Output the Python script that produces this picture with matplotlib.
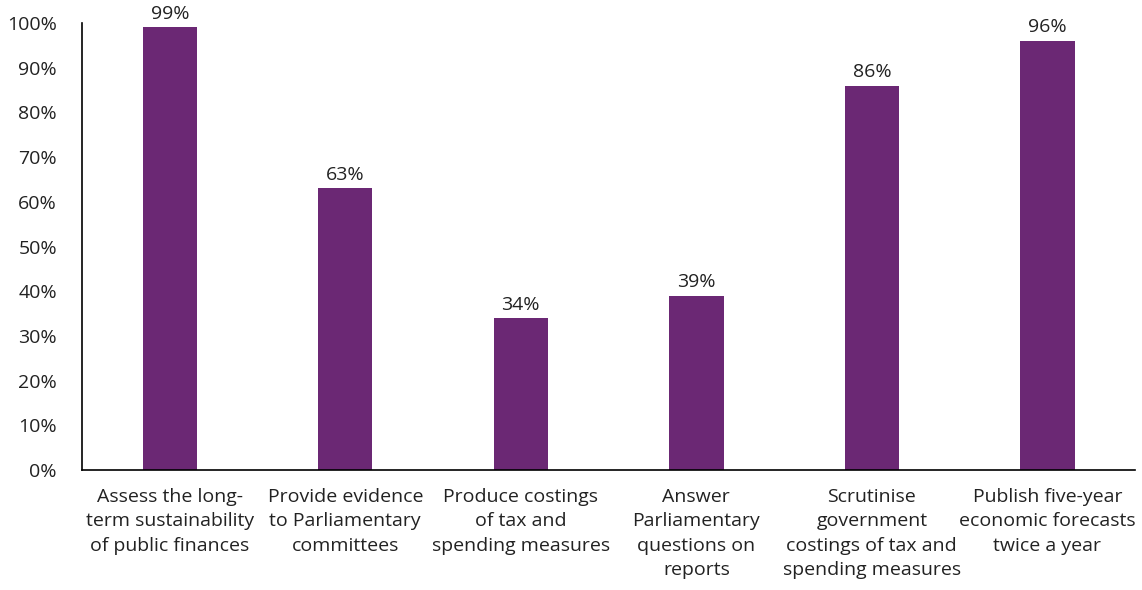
import matplotlib
matplotlib.use("Agg")
import matplotlib.pyplot as plt
from matplotlib.ticker import PercentFormatter

categories = [
    "Assess the long-\nterm sustainability\nof public finances",
    "Provide evidence\nto Parliamentary\ncommittees",
    "Produce costings\nof tax and\nspending measures",
    "Answer\nParliamentary\nquestions on\nreports",
    "Scrutinise\ngovernment\ncostings of tax and\nspending measures",
    "Publish five-year\neconomic forecasts\ntwice a year",
]
values = [99, 63, 34, 39, 86, 96]
yticks = list(range(0, 101, 10))

plt.rcParams["font.family"] = ["Open Sans", "DejaVu Sans"]
bar_color = "#6B2874"
text_color = "#222222"
fs = 14

fig = plt.figure(figsize=(11.42, 5.90), dpi=100)
ax = fig.add_axes([0.0718, 0.2034, 0.9222, 0.7576])

x = range(len(categories))
bars = ax.bar(x, values, width=0.31, color=bar_color)
for rect, v in zip(bars, values):
    ax.text(rect.get_x() + rect.get_width() / 2, v + 1.0, f"{v}%",
            ha="center", va="bottom", fontsize=fs, color=text_color, clip_on=False)

ax.set_xlim(-0.5, len(categories) - 0.5)
ax.set_ylim(0, 100)
ax.set_yticks(yticks)
ax.yaxis.set_major_formatter(PercentFormatter(decimals=0))
ax.set_xticks(list(x))
ax.set_xticklabels(categories, fontsize=fs, color=text_color, linespacing=1.45)
ax.tick_params(axis="y", length=0, labelsize=fs, labelcolor=text_color, pad=18)
ax.tick_params(axis="x", length=0, pad=13)

for side in ("top", "right"):
    ax.spines[side].set_visible(False)
for side in ("left", "bottom"):
    ax.spines[side].set_color("#000000")
    ax.spines[side].set_linewidth(1.2)

fig.savefig("out.png", dpi=100)
